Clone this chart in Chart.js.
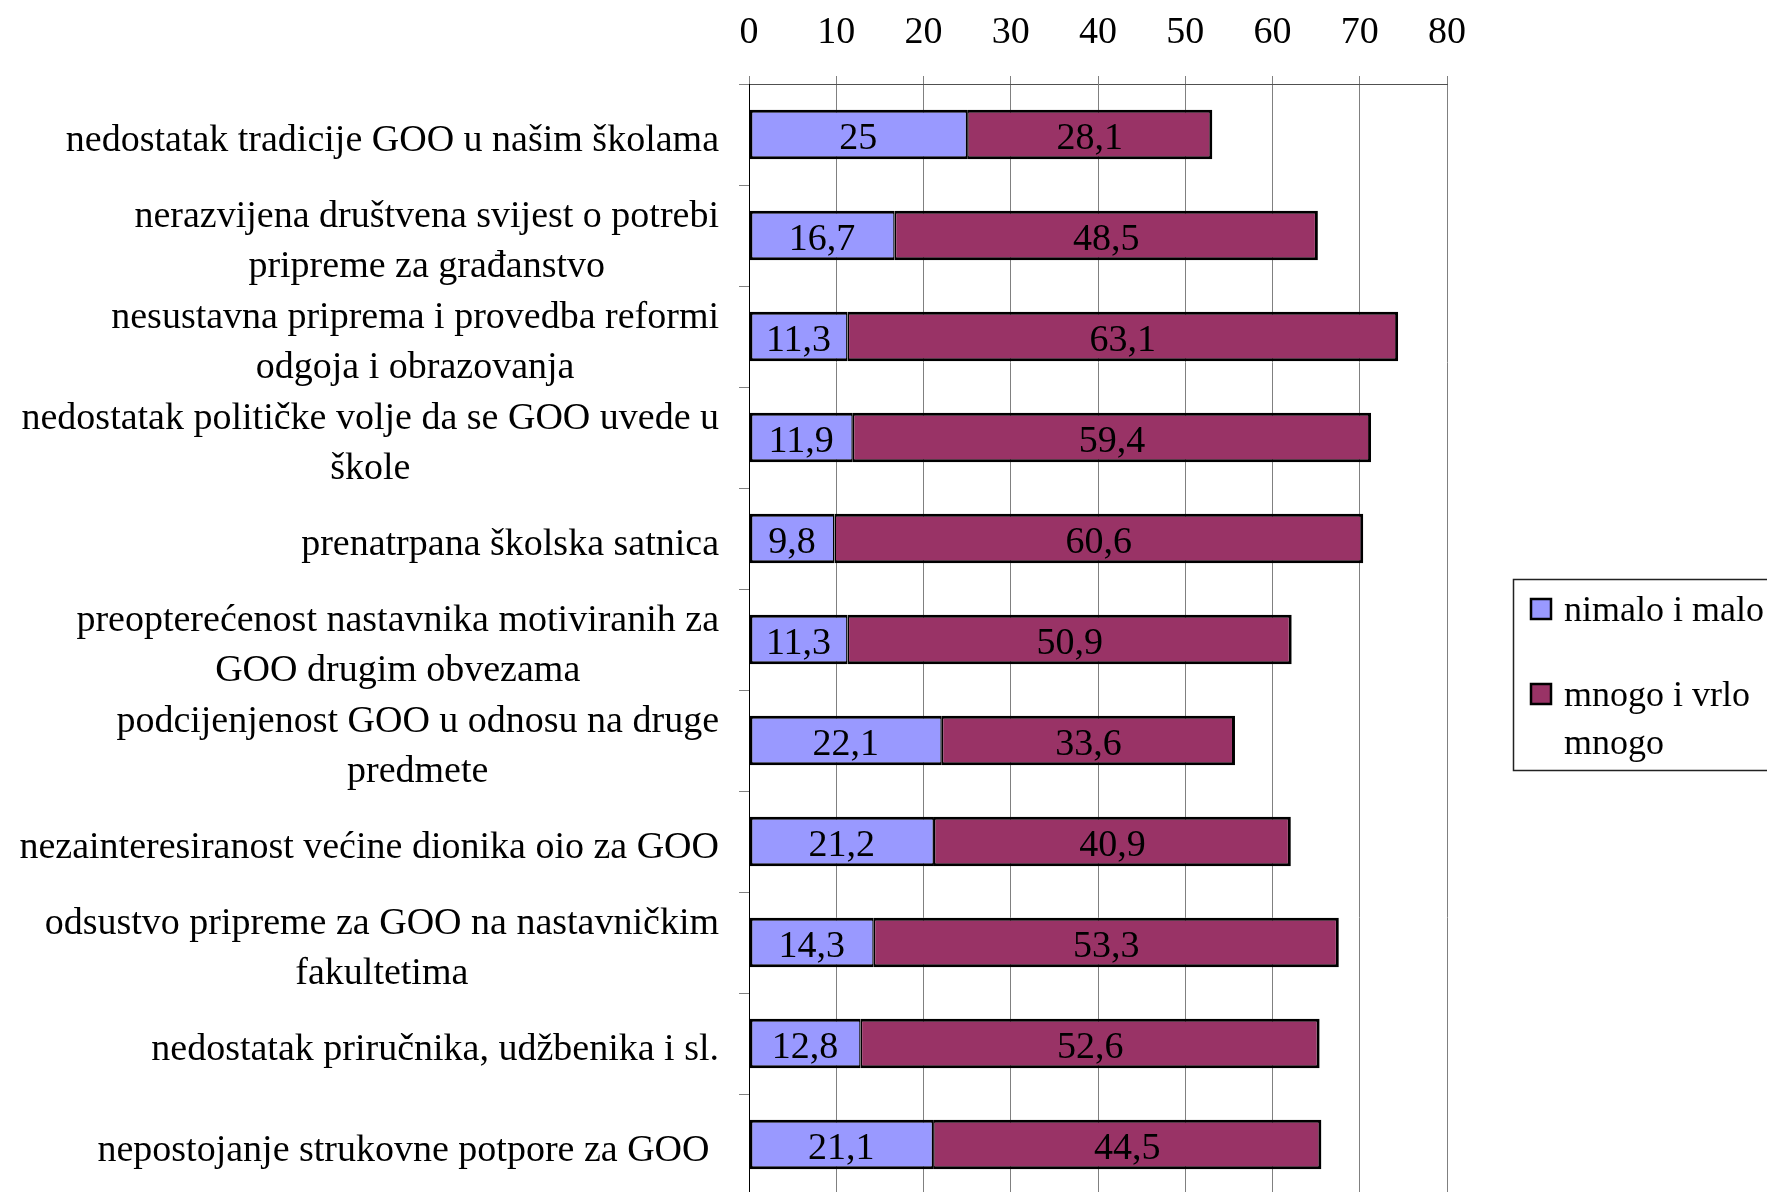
<!DOCTYPE html>
<html>
<head>
<meta charset="utf-8">
<script src="https://cdn.jsdelivr.net/npm/chart.js@4/dist/chart.umd.min.js"></script>
<style>
  html, body { margin: 0; padding: 0; background: #fff; overflow: hidden; }
  canvas { display: block; }
</style>
</head>
<body>
<canvas id="c" width="1767" height="1200"></canvas>
<script>
// Obstacles to civic education (GOO) – share of answers per rating group
const categories = [
  ['nedostatak tradicije GOO u našim školama'],
  ['nerazvijena društvena svijest o potrebi', 'pripreme za građanstvo'],
  ['nesustavna priprema i provedba reformi', 'odgoja i obrazovanja'],
  ['nedostatak političke volje da se GOO uvede u', 'škole'],
  ['prenatrpana školska satnica'],
  ['preopterećenost nastavnika motiviranih za', 'GOO drugim obvezama'],
  ['podcijenjenost GOO u odnosu na druge', 'predmete'],
  ['nezainteresiranost većine dionika oio za GOO'],
  ['odsustvo pripreme za GOO na nastavničkim', 'fakultetima'],
  ['nedostatak priručnika, udžbenika i sl.'],
  ['nepostojanje strukovne potpore za GOO ']
];
const seriesNames = ['nimalo i malo', 'mnogo i vrlo mnogo'];
const legendLines = [['nimalo i malo'], ['mnogo i vrlo', 'mnogo']];
const nimaloIMalo = [25, 16.7, 11.3, 11.9, 9.8, 11.3, 22.1, 21.2, 14.3, 12.8, 21.1];
const mnogoIVrloMnogo = [28.1, 48.5, 63.1, 59.4, 60.6, 50.9, 33.6, 40.9, 53.3, 52.6, 44.5];
const xTicks = [0, 10, 20, 30, 40, 50, 60, 70, 80];

const COLORS = ['#9999FF', '#993366'];
const FONT = '38px "Liberation Serif"';
const LEGEND_FONT = '36px "Liberation Serif"';
const fmt = v => String(v).replace('.', ',');

// Draws axis numbers, category labels, value labels and the boxed legend
const textPlugin = {
  id: 'texts',
  afterDraw(chart) {
    const ctx = chart.ctx;
    const xs = chart.scales.x, ys = chart.scales.y;
    ctx.save();
    ctx.font = FONT;
    ctx.fillStyle = '#000';
    ctx.textBaseline = 'middle';

    // top axis numbers
    ctx.textAlign = 'center';
    xTicks.forEach(v => ctx.fillText(String(v), xs.getPixelForValue(v), 33));

    // category labels: block right-aligned, lines centred within block
    const right = 719, lh = 50;
    categories.forEach((lines, i) => {
      const cy = ys.getPixelForValue(i) + 7;
      const w = Math.max(...lines.map(l => ctx.measureText(l).width));
      const cx = right - w / 2;
      const y0 = cy - (lines.length - 1) * lh / 2;
      lines.forEach((l, k) => ctx.fillText(l, cx, y0 + k * lh));
    });

    // value labels centred in each segment
    chart.data.datasets.forEach((ds, di) => {
      chart.getDatasetMeta(di).data.forEach((bar, i) => {
        const p = bar.getProps(['x', 'base', 'y'], true);
        ctx.fillText(fmt(ds.data[i]), (p.x + p.base) / 2, p.y + 5);
      });
    });

    // legend
    ctx.font = LEGEND_FONT;
    ctx.strokeStyle = '#222';
    ctx.lineWidth = 1.5;
    ctx.strokeRect(1513.5, 579.5, 300, 191);
    const rows = [609, 694];
    legendLines.forEach((lines, i) => {
      ctx.fillStyle = COLORS[i];
      ctx.fillRect(1531, rows[i] - 10, 20, 20);
      ctx.strokeStyle = '#000';
      ctx.lineWidth = 2.5;
      ctx.strokeRect(1531, rows[i] - 10, 20, 20);
      ctx.fillStyle = '#000';
      ctx.textAlign = 'left';
      lines.forEach((l, k) => ctx.fillText(l, 1564, rows[i] + 3 + k * 48));
    });
    ctx.restore();
  }
};

new Chart(document.getElementById('c'), {
  type: 'bar',
  data: {
    labels: categories.map(c => c.join(' ')),
    datasets: [
      {
        label: seriesNames[0], data: nimaloIMalo, backgroundColor: COLORS[0],
        borderColor: '#000', borderSkipped: false,
        borderWidth: { top: 3, bottom: 3, left: 3, right: 1.5 }
      },
      {
        label: seriesNames[1], data: mnogoIVrloMnogo, backgroundColor: COLORS[1],
        borderColor: '#000', borderSkipped: false,
        borderWidth: { top: 3, bottom: 3, left: 1.5, right: 3 }
      }
    ]
  },
  options: {
    indexAxis: 'y',
    responsive: false,
    animation: false,
    layout: { padding: { left: 0, right: 320, top: 0, bottom: 5 } },
    plugins: { legend: { display: false }, tooltip: { enabled: false } },
    datasets: { bar: { barPercentage: 0.49, categoryPercentage: 1 } },
    scales: {
      x: {
        position: 'top', stacked: true, min: 0, max: 80,
        ticks: { display: false, stepSize: 10 },
        grid: { color: '#808080', lineWidth: 1, tickLength: 8 },
        border: { color: '#505050', width: 1 },
        afterFit(s) { s.height = 84; }
      },
      y: {
        stacked: true,
        ticks: { display: false },
        grid: { drawOnChartArea: false, tickLength: 10, color: '#808080' },
        border: { color: '#000', width: 1 },
        afterFit(s) { s.width = 749; }
      }
    }
  },
  plugins: [textPlugin]
});
</script>
</body>
</html>
